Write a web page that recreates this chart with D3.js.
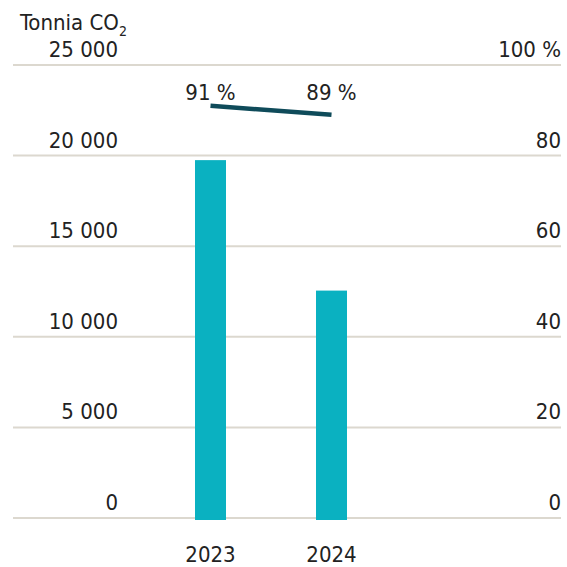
<!DOCTYPE html>
<html>
<head>
<meta charset="utf-8">
<script src="https://cdn.jsdelivr.net/npm/d3@7"></script>
<style>
  body { margin: 0; background: #fff; }
  text { font-family: "Liberation Sans Narrow", "DejaVu Sans Condensed", sans-serif; font-size: 22px; fill: #222; }
</style>
</head>
<body>
<svg id="chart" width="567" height="567"></svg>
<script>
// data
const years = ["2023", "2024"];
const emissions = [19750, 12550];
const shares = [91, 89];
const leftTicks = [0, 5000, 10000, 15000, 20000, 25000];
const rightTicks = [0, 20, 40, 60, 80, 100];

const svg = d3.select("#chart");

const x = d3.scalePoint().domain(years).range([150, 392]).padding(0.5);
const y = d3.scaleLinear().domain([0, 25000]).range([518, 65]);
const y2 = d3.scaleLinear().domain([0, 100]).range([518, 65]);
const barWidth = 31;

const fmt = d => d3.format(",")(d).replace(/,/g, " ");

// gridlines
svg.selectAll(".grid")
  .data(leftTicks)
  .enter()
  .append("line")
  .attr("x1", 13)
  .attr("x2", 561)
  .attr("y1", d => y(d))
  .attr("y2", d => y(d))
  .style("stroke", "#dcd8cf")
  .style("stroke-width", 2);

// left labels
svg.selectAll(".left-label")
  .data(leftTicks)
  .enter()
  .append("text")
  .attr("x", 118)
  .attr("y", d => y(d) - 8)
  .attr("text-anchor", "end")
  .text(d => fmt(d));

// right labels
svg.selectAll(".right-label")
  .data(rightTicks)
  .enter()
  .append("text")
  .attr("x", 561)
  .attr("y", d => y2(d) - 8)
  .attr("text-anchor", "end")
  .text(d => d === 100 ? "100 %" : d);

// axis title
const title = svg.append("text").attr("x", 20).attr("y", 30);
title.append("tspan").text("Tonnia CO");
title.append("tspan").attr("dy", 6).style("font-size", "14px").text("2");

// bars
svg.selectAll(".bar")
  .data(years)
  .enter()
  .append("rect")
  .attr("x", d => x(d) - barWidth / 2)
  .attr("width", barWidth)
  .attr("y", (d, i) => y(emissions[i]))
  .attr("height", (d, i) => y(0) - y(emissions[i]) + 2)
  .style("fill", "#0ab1c1");

// year labels
svg.selectAll(".year")
  .data(years)
  .enter()
  .append("text")
  .attr("x", d => x(d))
  .attr("y", 562)
  .attr("text-anchor", "middle")
  .text(d => d);

// share line
const line = d3.line()
  .x((d, i) => x(years[i]))
  .y(d => y2(d));

svg.append("path")
  .datum(shares)
  .attr("d", line)
  .style("fill", "none")
  .style("stroke", "#0f4b5a")
  .style("stroke-width", 4.5);

svg.selectAll(".share")
  .data(shares)
  .enter()
  .append("text")
  .attr("x", (d, i) => x(years[i]))
  .attr("y", 100)
  .attr("text-anchor", "middle")
  .text(d => d + " %");
</script>
</body>
</html>
